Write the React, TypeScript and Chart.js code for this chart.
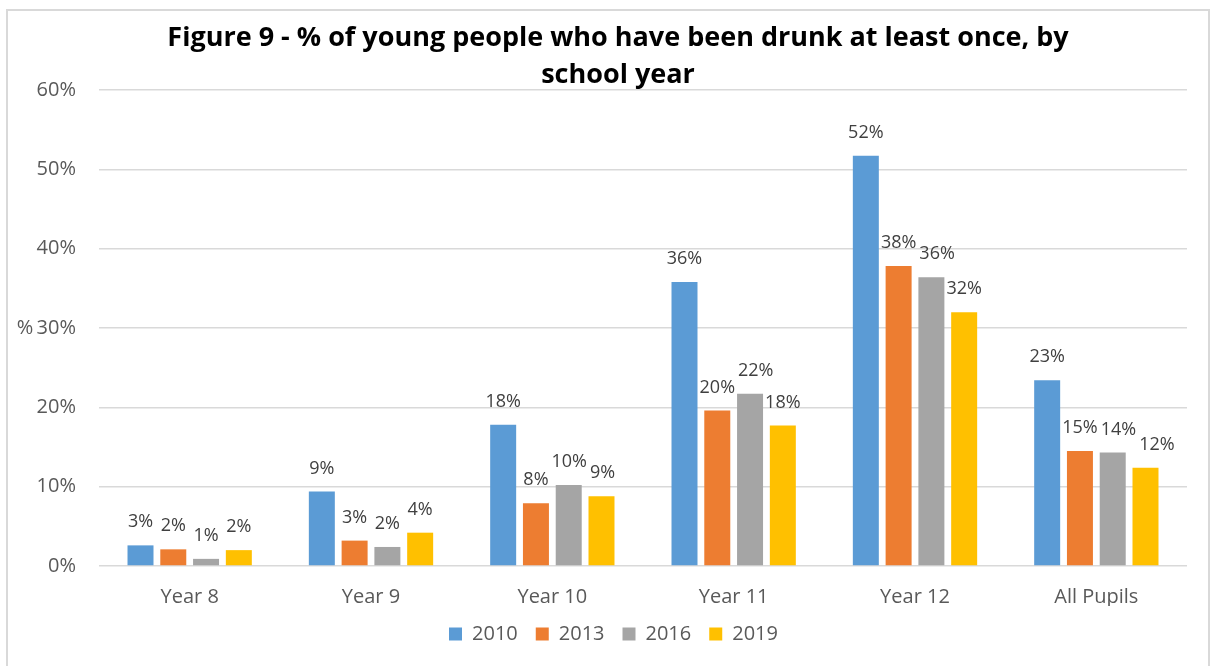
import React, { useEffect, useRef } from "react";
import { Chart, registerables } from "chart.js";

Chart.register(...registerables);

const categories = ["Year 8", "Year 9", "Year 10", "Year 11", "Year 12", "All Pupils"];
const seriesNames = ["2010", "2013", "2016", "2019"];
const values2010 = [2.6, 9.4, 17.8, 35.8, 51.7, 23.4];
const values2013 = [2.1, 3.2, 7.9, 19.6, 37.8, 14.5];
const values2016 = [0.9, 2.4, 10.2, 21.7, 36.4, 14.3];
const values2019 = [2.0, 4.2, 8.8, 17.7, 32.0, 12.4];
const yMin = 0;
const yMax = 60;
const yStep = 10;
const titleLines = [
  "Figure 9 - % of young people who have been drunk at least once, by",
  "school year",
];
const yAxisTitle = "%";

const seriesValues = [values2010, values2013, values2016, values2019];
const seriesColors = ["#5B9BD5", "#ED7D31", "#A5A5A5", "#FFC000"];

const FONT = "'Open Sans', 'Liberation Sans', sans-serif";

const framePlugin = {
  id: "frame",
  beforeDraw(chart: any) {
    const ctx = chart.ctx;
    ctx.save();
    ctx.fillStyle = "#ffffff";
    ctx.fillRect(0, 0, chart.width, chart.height);
    ctx.strokeStyle = "#d9d9d9";
    ctx.lineWidth = 2;
    ctx.strokeRect(7, 10, 1202, 700);
    ctx.restore();
  },
};

const legendShiftPlugin = {
  id: "legendShift",
  afterLayout(chart: any) {
    if (chart.legend) {
      chart.legend.left = 40;
    }
  },
};

const titlePlugin = {
  id: "customTitle",
  afterDraw(chart: any) {
    const ctx = chart.ctx;
    ctx.save();
    ctx.fillStyle = "#000000";
    ctx.font = `bold 27px ${FONT}`;
    ctx.textAlign = "center";
    ctx.textBaseline = "alphabetic";
    titleLines.forEach((line, i) => {
      ctx.fillText(line, 618, 46 + i * 36.5);
    });
    const yScale = chart.scales.y;
    ctx.fillStyle = "#595959";
    ctx.font = `20px ${FONT}`;
    ctx.textBaseline = "middle";
    ctx.fillText(yAxisTitle, 25, yScale.getPixelForValue((yMin + yMax) / 2));
    ctx.restore();
  },
};

const dataLabelPlugin = {
  id: "dataLabels",
  afterDatasetsDraw(chart: any) {
    const ctx = chart.ctx;
    ctx.save();
    ctx.fillStyle = "#404040";
    ctx.font = `18px ${FONT}`;
    ctx.textAlign = "center";
    ctx.textBaseline = "middle";
    const nDs = chart.data.datasets.length;
    const nCat = chart.data.labels.length;
    for (let j = 0; j < nCat; j++) {
      let prevRight = -Infinity;
      let prevY = 0;
      for (let i = 0; i < nDs; i++) {
        const ds = chart.data.datasets[i];
        const bar: any = chart.getDatasetMeta(i).data[j];
        const text = Math.round(ds.data[j]) + "%";
        const w = ctx.measureText(text).width;
        let x = bar.x;
        const y = bar.y - 23;
        // avoid overlapping the previous label in the same group
        if (Math.abs(y - prevY) < 20 && x - w / 2 < prevRight + 3) {
          x = prevRight + 3 + w / 2;
        }
        ctx.fillText(text, x, y);
        prevRight = x + w / 2;
        prevY = y;
      }
    }
    ctx.restore();
  },
};

export default function App() {
  const canvasRef = useRef<HTMLCanvasElement | null>(null);

  useEffect(() => {
    if (!canvasRef.current) return;
    const chart = new Chart(canvasRef.current, {
      type: "bar",
      data: {
        labels: categories,
        datasets: seriesNames.map((name, i) => ({
          label: name,
          data: seriesValues[i],
          backgroundColor: seriesColors[i],
          borderColor: seriesColors[i],
          borderWidth: 0,
          categoryPercentage: 0.723,
          barPercentage: 0.793,
        })),
      },
      options: {
        responsive: false,
        animation: false,
        devicePixelRatio: 1,
        layout: { padding: { top: 90, left: 0, right: 27, bottom: 12 } },
        plugins: {
          title: { display: false },
          tooltip: { enabled: false },
          legend: {
            display: true,
            position: "bottom",
            labels: {
              boxWidth: 13,
              boxHeight: 13,
              padding: 18,
              color: "#595959",
              font: { family: FONT, size: 20 },
            },
          },
        },
        scales: {
          x: {
            grid: { display: false, drawTicks: false },
            border: { display: false },
            ticks: {
              color: "#595959",
              font: { family: FONT, size: 20 },
              padding: 19,
              maxRotation: 0,
            },
            afterFit: (s: any) => {
              s.height = 40;
            },
          },
          y: {
            min: yMin,
            max: yMax,
            grid: { color: "#d9d9d9", lineWidth: 1.5, drawTicks: false },
            border: { display: false },
            ticks: {
              stepSize: yStep,
              color: "#595959",
              font: { family: FONT, size: 20 },
              padding: 23,
              callback: (v: any) => v + "%",
            },
            afterFit: (s: any) => {
              s.width = 99;
            },
          },
        },
      },
      plugins: [framePlugin, legendShiftPlugin, titlePlugin, dataLabelPlugin],
    });
    return () => chart.destroy();
  }, []);

  return (
    <div style={{ position: "fixed", left: 0, top: 0, width: 1214, height: 666, background: "#fff" }}>
      <canvas ref={canvasRef} width={1214} height={666} style={{ display: "block" }} />
    </div>
  );
}
